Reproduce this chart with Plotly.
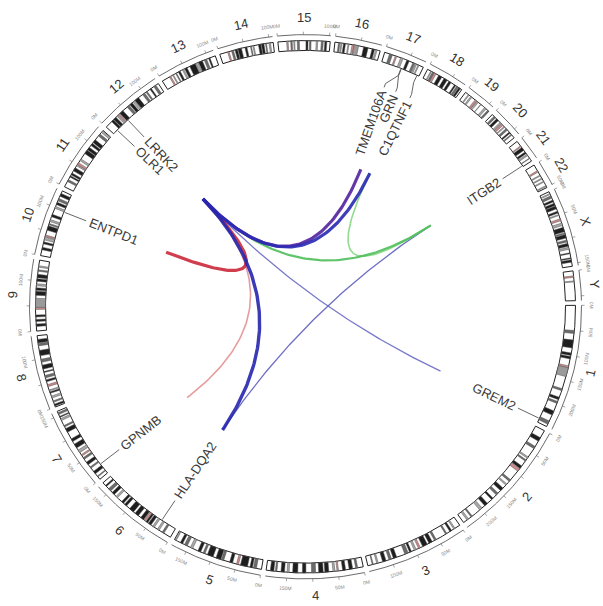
import math
import plotly.graph_objects as go

# ---------------- data ----------------
CHROMS = [str(i) for i in range(1, 23)] + ["X", "Y"]
CHROM_LEN_MB = [249.25, 243.2, 198.0, 191.15, 180.9, 171.1, 159.1, 146.4, 141.2,
                135.5, 135.0, 133.85, 115.2, 107.35, 102.5, 90.35, 81.2, 78.1,
                59.1, 63.0, 48.1, 51.3, 155.3, 59.4]

# approximate cytoband stains (start Mb, end Mb, stain)
BANDS = {
    "1": [(50, 56, 75), (69, 85, 100), (95, 100, 100), (102, 107, 100), (121, 125, "acen"),
          (125, 143, "gvar"), (168, 172, 75), (186, 191, 100), (195, 199, 75), (215, 224, 100), (237, 244, 75)],
    "2": [(16, 24, 100), (36, 41, 75), (61, 64, 50), (68, 71, 75), (83, 89, 100), (90, 96, "acen"),
          (118, 122, 75), (129, 132, 50), (140, 147, 100), (154, 159, 75), (168, 172, 100),
          (183, 190, 100), (197, 203, 50), (222, 225, 75), (231, 235, 50)],
    "3": [(11, 14, 50), (19, 23, 100), (30, 33, 75), (54, 58, 75), (63, 70, 100), (74, 84, 100),
          (89, 93, "acen"), (98, 102, 50), (108, 112, 100), (115, 122, 75), (139, 146, 100),
          (150, 155, 75), (161, 168, 100), (177, 180, 50), (187, 189, 75)],
    "4": [(11, 15, 75), (21, 28, 100), (35, 41, 100), (49, 52, "acen"), (56, 60, 50), (68, 76, 100),
          (79, 88, 100), (94, 102, 75), (113, 120, 100), (129, 139, 100), (146, 150, 50),
          (155, 162, 100), (170, 173, 75), (176, 183, 100)],
    "5": [(10, 16, 75), (18, 23, 100), (28, 42, 100), (46, 50, "acen"), (58, 64, 100), (76, 81, 75),
          (82, 92, 100), (98, 110, 100), (115, 119, 75), (124, 130, 100), (141, 146, 50),
          (153, 159, 75), (163, 168, 100), (177, 179, 50)],
    "6": [(15, 19, 75), (26, 30, 50), (37, 41, 50), (45, 51, 100), (53, 57, 100), (58, 62, "acen"),
          (63, 70, 100), (76, 84, 100), (88, 98, 100), (106, 111, 100), (114, 119, 100),
          (130, 134, 50), (139, 145, 100), (149, 155, 75), (161, 164, 100)],
    "7": [(6, 8, 75), (14, 20, 100), (28, 31, 75), (37, 43, 100), (50, 54, 75), (58, 61, "acen"),
          (66, 72, 50), (77, 86, 100), (92, 98, 100), (113, 121, 100), (125, 128, 75),
          (139, 143, 50), (146, 148, 100), (152, 156, 75)],
    "8": [(2, 6, 100), (10, 13, 75), (19, 23, 50), (29, 32, 100), (34, 36, 50), (43, 47, "acen"),
          (53, 57, 100), (61, 66, 75), (72, 74, 100), (79, 87, 100), (93, 99, 75), (106, 117, 100),
          (126, 131, 75), (132, 139, 100)],
    "9": [(9, 14, 100), (19, 23, 100), (28, 32, 100), (43, 47, "acen"), (47, 65, "gvar"),
          (71, 79, 100), (81, 86, 100), (90, 94, 50), (99, 104, 100), (106, 113, 100),
          (119, 122, 75), (127, 130, 50)],
    "10": [(12, 17, 100), (24, 28, 100), (32, 38, 50), (39, 42, "acen"), (52, 61, 100), (63, 66, 75),
           (70, 74, 50), (80, 85, 100), (98, 102, 50), (106, 111, 100), (114, 119, 75), (124, 130, 100)],
    "11": [(12, 16, 75), (22, 25, 100), (27, 31, 100), (36, 43, 100), (48, 51, 50), (51, 55, "acen"),
           (60, 64, 50), (77, 85, 100), (86, 92, 100), (97, 102, 100), (104, 111, 100),
           (121, 126, 75), (130, 134, 50)],
    "12": [(15, 20, 100), (21, 27, 100), (30, 33, 50), (34, 37, "acen"), (38, 46, 100), (57, 62, 75),
           (64, 70, 100), (72, 76, 50), (77, 86, 100), (96, 101, 75), (104, 107, 75),
           (114, 117, 100), (123, 128, 75)],
    "13": [(16, 19, "acen"), (23, 25, 50), (30, 32, 75), (36, 40, 100), (45, 48, 50), (50, 55, 100),
           (61, 73, 100), (74, 79, 50), (80, 88, 100), (92, 97, 75), (101, 104, 100)],
    "14": [(16, 19, "acen"), (24, 28, 75), (31, 36, 100), (37, 44, 100), (51, 55, 100), (62, 64, 75),
           (67, 69, 50), (78, 83, 100), (84, 89, 100), (92, 94, 75), (99, 102, 50)],
    "15": [(17, 20, "acen"), (25, 28, 75), (31, 33, 50), (38, 42, 75), (55, 59, 100), (62, 65, 75),
           (75, 78, 50), (85, 89, 75), (92, 96, 100)],
    "16": [(7, 10, 75), (12, 14, 50), (17, 21, 100), (26, 28, 50), (34, 38, "acen"), (38, 47, "gvar"),
           (57, 66, 100), (74, 79, 100), (81, 84, 50)],
    "17": [(10, 16, 75), (22, 25, "acen"), (33, 38, 50), (46, 51, 100), (59, 63, 75), (64, 67, 50),
           (70, 72, 50)],
    "18": [(7, 9, 50), (11, 15, 75), (15, 19, "acen"), (25, 32, 100), (37, 44, 100), (48, 53, 100),
           (61, 64, 100), (66, 70, 75), (71, 75, 100)],
    "19": [(7, 9, 50), (13, 16, 50), (24, 28, "acen"), (28, 32, 50), (38, 39, 50), (48, 52, 50),
           (56, 58, 75)],
    "20": [(5, 9, 75), (12, 17, 100), (22, 25, 50), (26, 30, "acen"), (33, 35, 50), (39, 43, 75),
           (48, 51, 100), (54, 56, 75)],
    "21": [(11, 13, "acen"), (15, 22, 100), (26, 30, 100), (32, 35, 50), (41, 42, 75)],
    "22": [(13, 16, "acen"), (23, 25, 50), (30, 32, 50), (37, 39, 50), (47, 49, 50)],
    "X": [(4, 6, 50), (9, 14, 75), (18, 22, 100), (25, 30, 100), (31, 37, 100), (42, 46, 100),
          (49, 51, 50), (58, 62, "acen"), (67, 72, 50), (76, 85, 100), (87, 90, 75), (91, 98, 100),
          (102, 106, 75), (109, 115, 100), (117, 121, 50), (128, 130, 100), (138, 140, 100),
          (142, 147, 100)],
    "Y": [(10, 13, "acen"), (20, 22, 50)],
}

GENES = ["LRRK2", "OLR1", "ENTPD1", "GPNMB", "HLA-DQA2", "GREM2", "ITGB2",
         "TMEM106A", "GRN", "C1QTNF1"]
GENE_CHROM = ["12", "12", "10", "7", "6", "1", "21", "17", "17", "17"]
GENE_POS_MB = [40.6, 10.3, 97.5, 23.3, 32.7, 240.7, 46.3, 41.4, 42.4, 77.0]

LINK_A = ["LRRK2", "HLA-DQA2", "LRRK2", "LRRK2", "C1QTNF1", "LRRK2",
          "LRRK2", "LRRK2", "LRRK2", "LRRK2"]
LINK_B = ["GREM2", "ITGB2", "GPNMB", "TMEM106A", "ITGB2", "ITGB2",
          "ENTPD1", "GRN", "C1QTNF1", "HLA-DQA2"]

TICK_STEP_MB = 50

# ---------------- styles / geometry ----------------
LINK_COLORS = ["#6b6bc4", "#5f5fbf", "#e59393", "#a3a36e", "#86d886", "#4fbf5a",
               "#cc2a3a", "#5a2aa8", "#2a2ab4", "#2626b0"]
LINK_WIDTHS = [1.3, 1.3, 1.6, 1.6, 1.6, 2.2, 3.2, 3.2, 3.2, 3.4]
LABEL_NUDGE_DEG = {"TMEM106A": -2.1, "GRN": 0.8, "C1QTNF1": 0.8}
STAIN_COLORS = {100: "#1e1e1e", 75: "#6a6a6a", 50: "#a8a8a8", 25: "#d0d0d0",
                "acen": "#cf8a8a", "gvar": "#9a9a9a"}

W, H = 603, 606
CX, CY = 305.5, 306.75
KY = 0.986
START_DEG = -0.3
GAP_DEG = 1.0
R_IDEO_IN, R_IDEO_OUT = 260.0, 270.0
R_TICKLINE = 276.0
R_TICKLAB = 284.0
R_CHRLAB = 293.0
R_LINK = 150.0
R_CONN_OUT, R_CONN_IN, R_TEXT = 259.0, 236.0, 232.0
GENE_FONT = 13
EDGE_PAD = 9
FONT = "Liberation Sans, Arial, sans-serif"

deg_per_mb = (360.0 - GAP_DEG * len(CHROMS)) / sum(CHROM_LEN_MB)
chrom_start = {}
acc = START_DEG
for c, L in zip(CHROMS, CHROM_LEN_MB):
    chrom_start[c] = acc
    acc += L * deg_per_mb + GAP_DEG
chrom_len = dict(zip(CHROMS, CHROM_LEN_MB))


def ang(c, mb):
    return chrom_start[c] + mb * deg_per_mb


def xy(r, a):
    t = math.radians(a)
    return CX + r * math.cos(t), CY + r * KY * math.sin(t)


def arc(r, a0, a1, step=0.4):
    n = max(2, int(abs(a1 - a0) / step) + 2)
    return [xy(r, a0 + (a1 - a0) * i / (n - 1)) for i in range(n)]


def ring_poly(a0, a1, r0, r1):
    pts = arc(r1, a0, a1) + arc(r0, a1, a0)
    pts.append(pts[0])
    return pts


def add_path(xs, ys, pts):
    for p in pts:
        xs.append(p[0]); ys.append(p[1])
    xs.append(None); ys.append(None)


def tangential_angle(a):
    an = a % 360.0
    ta = an + 90 if an > 180 else an - 90
    if ta > 180:
        ta -= 360
    return ta


CHAR_W = {"I": 0.278, "1": 0.556, "-": 0.333, "M": 0.833, "G": 0.778, "O": 0.778,
          "Q": 0.778, "C": 0.722, "D": 0.722, "H": 0.722, "N": 0.722, "R": 0.722,
          "L": 0.556, "T": 0.611, "0": 0.556, "2": 0.556, "6": 0.556}


def text_w(s, size):
    return sum(CHAR_W.get(ch, 0.667) for ch in s) * size


fig = go.Figure()

# ideogram bodies
xs, ys = [], []
for c in CHROMS:
    a0 = chrom_start[c]; a1 = ang(c, chrom_len[c])
    add_path(xs, ys, ring_poly(a0, a1, R_IDEO_IN, R_IDEO_OUT))
fig.add_trace(go.Scatter(x=xs, y=ys, mode="lines", fill="toself", fillcolor="white",
                         line=dict(color="#222222", width=1), hoverinfo="skip"))

# bands
for stain, col in STAIN_COLORS.items():
    xs, ys = [], []
    for c in CHROMS:
        for (s, e, st) in BANDS[c]:
            if st == stain:
                add_path(xs, ys, ring_poly(ang(c, s), ang(c, e), R_IDEO_IN, R_IDEO_OUT))
    if xs:
        fig.add_trace(go.Scatter(x=xs, y=ys, mode="lines", fill="toself", fillcolor=col,
                                 line=dict(color="#555555", width=0.5), hoverinfo="skip"))

# tick line + ticks
xs, ys = [], []
tx, ty = [], []
annotations = []
for c in CHROMS:
    a0 = chrom_start[c]; a1 = ang(c, chrom_len[c])
    amid = ang(c, chrom_len[c] / 2)
    add_path(xs, ys, arc(R_TICKLINE, a0, a1))
    v = 0
    while v <= chrom_len[c]:
        a = ang(c, v)
        add_path(tx, ty, [xy(R_TICKLINE, a), xy(R_TICKLINE + 3, a)])
        if abs(a - amid) > 2.6:
            px, py = xy(R_TICKLAB + 2, a)
            annotations.append(dict(x=px, y=py, xref="x", yref="y", text=f"{v}M", showarrow=False,
                                    textangle=tangential_angle(a), xanchor="center", yanchor="middle",
                                    font=dict(size=5, color="#888888", family=FONT)))
        v += TICK_STEP_MB
fig.add_trace(go.Scatter(x=xs, y=ys, mode="lines", line=dict(color="#444444", width=0.8),
                         hoverinfo="skip"))
fig.add_trace(go.Scatter(x=tx, y=ty, mode="lines", line=dict(color="#666666", width=0.6),
                         hoverinfo="skip"))

# chromosome labels
for c in CHROMS:
    a = ang(c, chrom_len[c] / 2)
    px, py = xy(R_CHRLAB, a)
    px = min(max(px, EDGE_PAD), W - EDGE_PAD)
    py = min(max(py, EDGE_PAD), H - EDGE_PAD)
    annotations.append(dict(x=px, y=py, xref="x", yref="y", text=c, showarrow=False,
                            textangle=tangential_angle(a), xanchor="center", yanchor="middle",
                            font=dict(size=13, color="#333333", family=FONT)))

# gene label connectors and labels
gene_ang = {g: ang(c, p) for g, c, p in zip(GENES, GENE_CHROM, GENE_POS_MB)}
cx_, cy_ = [], []
for g in GENES:
    a = gene_ang[g]
    la = a + LABEL_NUDGE_DEG.get(g, 0.0)
    if g in LABEL_NUDGE_DEG:
        pts = [xy(R_CONN_OUT, a), xy(R_CONN_OUT - 7, a), xy(R_CONN_IN + 4, la), xy(R_CONN_IN, la)]
    else:
        pts = [xy(R_CONN_OUT, a), xy(R_CONN_IN, a)]
    add_path(cx_, cy_, pts)
    w = text_w(g, GENE_FONT)
    rc = R_TEXT - w / 2
    px, py = xy(rc, la)
    an = la % 360.0
    if an > 180:
        an -= 360
    ta = an if -90 <= an <= 90 else an - 180
    annotations.append(dict(x=px, y=py, xref="x", yref="y", text=g, showarrow=False,
                            textangle=ta, xanchor="center", yanchor="middle",
                            font=dict(size=GENE_FONT, color="#3a3a3a", family=FONT)))
fig.add_trace(go.Scatter(x=cx_, y=cy_, mode="lines", line=dict(color="#555555", width=0.9),
                         hoverinfo="skip"))

# links (quadratic bezier through centre)
for ga, gb, col, lw in zip(LINK_A, LINK_B, LINK_COLORS, LINK_WIDTHS):
    p0 = xy(R_LINK, gene_ang[ga]); p2 = xy(R_LINK, gene_ang[gb])
    lx, ly = [], []
    for i in range(81):
        t = i / 80
        lx.append((1 - t) ** 2 * p0[0] + 2 * (1 - t) * t * CX + t ** 2 * p2[0])
        ly.append((1 - t) ** 2 * p0[1] + 2 * (1 - t) * t * CY + t ** 2 * p2[1])
    fig.add_trace(go.Scatter(x=lx, y=ly, mode="lines", line=dict(color=col, width=lw),
                             opacity=0.9, hoverinfo="skip"))

fig.update_layout(width=W, height=H, margin=dict(l=0, r=0, t=0, b=0),
                  paper_bgcolor="white", plot_bgcolor="white", showlegend=False,
                  xaxis=dict(range=[0, W], visible=False, fixedrange=True),
                  yaxis=dict(range=[H, 0], visible=False, fixedrange=True),
                  annotations=annotations)
fig.write_html("out.html", config={"displayModeBar": False},
               post_script="document.body.style.margin='0px';document.body.style.overflow='hidden';")
